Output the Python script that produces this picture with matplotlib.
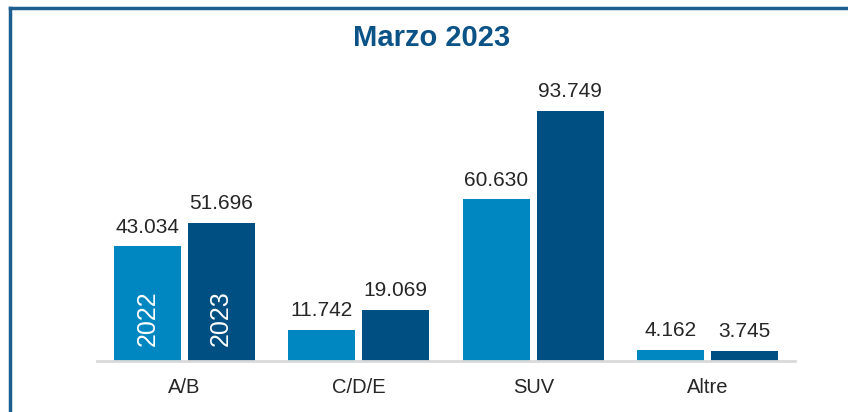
import matplotlib.pyplot as plt
from matplotlib.lines import Line2D
import numpy as np

plt.rcParams['font.family'] = ['Liberation Sans', 'DejaVu Sans']

categorie = ["A/B", "C/D/E", "SUV", "Altre"]
vendite_2022 = [43034, 11742, 60630, 4162]
vendite_2023 = [51696, 19069, 93749, 3745]
anni = ["2022", "2023"]

col_2022 = "#0087C1"
col_2023 = "#004F82"
col_testo = "#262626"
col_titolo = "#0B5286"


def fmt(v):
    return f"{v:,}".replace(",", ".")


fig = plt.figure(figsize=(8.48, 4.12), dpi=100)
ax = fig.add_axes([97 / 848, 51 / 412, 698 / 848, 301 / 412])

x = np.arange(len(categorie))
w = 0.383
off = 0.212
b1 = ax.bar(x - off, vendite_2022, w, color=col_2022)
b2 = ax.bar(x + off, vendite_2023, w, color=col_2023)

for barre, vals in ((b1, vendite_2022), (b2, vendite_2023)):
    for r, v in zip(barre, vals):
        ax.annotate(fmt(v), (r.get_x() + r.get_width() / 2, v),
                    xytext=(0, 7), textcoords="offset points",
                    ha="center", va="bottom", fontsize=15, color=col_testo)

# etichette anno dentro le prime barre
for r, a in zip((b1[0], b2[0]), anni):
    ax.annotate(a, (r.get_x() + r.get_width() / 2, 0),
                xytext=(0, 11), textcoords="offset points",
                ha="center", va="bottom", rotation=90,
                fontsize=18, color="white")

ax.set_xlim(-0.5, 3.5)
ax.set_ylim(0, 112870)
ax.set_xticks(x)
ax.set_xticklabels(categorie, fontsize=14.5, color=col_testo)
ax.tick_params(axis="x", length=0, pad=12)
ax.set_yticks([])
for s in ("top", "right", "left"):
    ax.spines[s].set_visible(False)
ax.spines["bottom"].set_color("#D9D9D9")
ax.spines["bottom"].set_linewidth(2)

fig.text(432 / 848, 1 - 38 / 412, "Marzo 2023", ha="center", va="center",
         fontsize=21, fontweight="bold", color=col_titolo)

# cornice
fig.add_artist(Line2D([10 / 848, 1], [1 - 8 / 412, 1 - 8 / 412],
                      color="#1B5E8F", lw=2.5, transform=fig.transFigure))
fig.add_artist(Line2D([10 / 848, 10 / 848], [0, 1 - 8 / 412],
                      color="#1B5E8F", lw=2.5, transform=fig.transFigure))

fig.savefig("out.png", dpi=100)
